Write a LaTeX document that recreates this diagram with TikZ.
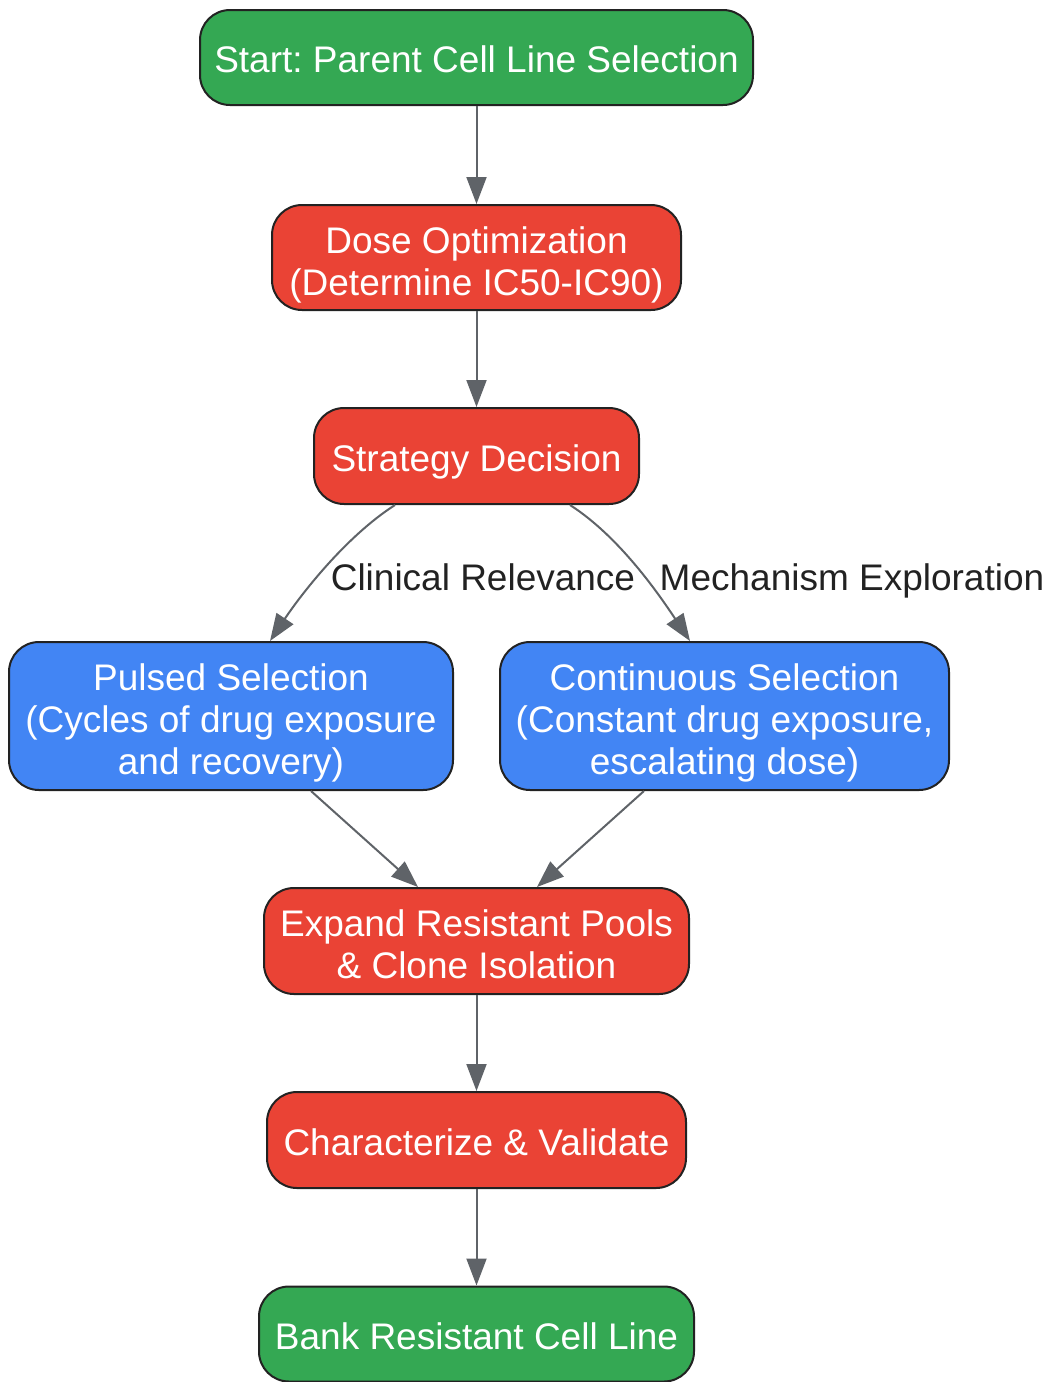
\documentclass[tikz,border=0pt]{standalone}
\usepackage{fontspec}
\setmainfont{Liberation Sans}
\usetikzlibrary{arrows.meta}
\definecolor{gfill}{HTML}{34A853}
\definecolor{rfill}{HTML}{EA4335}
\definecolor{bfill}{HTML}{4285F4}
\definecolor{edgec}{HTML}{5F6368}
\definecolor{bord}{HTML}{222222}
\definecolor{lblc}{HTML}{222222}
\newcommand{\topstrut}{\rule{0pt}{38pt}}
\newcommand{\mtop}{\rule{0pt}{41pt}}
\newcommand{\botstrut}{\rule[-8pt]{0pt}{8pt}}
\frenchspacing
\begin{document}
\begin{tikzpicture}[x=1pt,y=-1pt,
  txt/.style={align=center, inner sep=0pt, font=\fontsize{37}{42}\selectfont,
    execute at begin node=\topstrut, execute at end node=\botstrut},
  box/.style={txt, draw=bord, line width=2pt, rounded corners=30pt, text=white},
  gbox/.style={box, fill=gfill},
  rbox/.style={box, fill=rfill},
  bbox/.style={box, fill=bfill},
  arr/.style={draw=edgec, line width=2pt, -{Triangle[length=27pt,width=20pt]}},
  lbl/.style={txt, text=lblc}]
\useasboundingbox (0,0) rectangle (1049,1382);
\node[gbox, minimum width=553pt, minimum height=95pt] (start) at (476.5,57.5) {Start: Parent Cell Line Selection};
\node[rbox, minimum width=409pt, minimum height=105pt] (dose) at (476.5,257.5) {\mtop Dose Optimization\\(Determine IC50-IC90)};
\node[rbox, minimum width=325pt, minimum height=96pt] (strat) at (476.5,456) {Strategy Decision};
\node[bbox, minimum width=444pt, minimum height=148pt] (pulsed) at (231,716) {\mtop Pulsed Selection\\(Cycles of drug exposure\\and recovery)};
\node[bbox, minimum width=449pt, minimum height=148pt] (cont) at (724.5,716) {\mtop Continuous Selection\\(Constant drug exposure,\\escalating dose)};
\node[rbox, minimum width=425pt, minimum height=106pt] (expand) at (476.5,941) {\mtop Expand Resistant Pools\\\& Clone Isolation};
\node[rbox, minimum width=419pt, minimum height=96pt] (charac) at (476.5,1140) {Characterize \& Validate};
\node[gbox, minimum width=435pt, minimum height=95pt] (bank) at (476.5,1334) {Bank Resistant Cell Line};

\draw[arr] (start.south) -- (dose.north);
\draw[arr] (dose.south) -- (strat.north);
\draw[arr] ([xshift=-81.5pt]strat.south) .. controls +(-50,32) and +(30,-45) .. ([xshift=39pt]pulsed.north);
\draw[arr] ([xshift=93.5pt]strat.south) .. controls +(50,32) and +(-30,-45) .. ([xshift=-34.5pt]cont.north);
\node[lbl] (l1) at (483,575) {Clinical Relevance};
\node[lbl] (l2) at (852,575) {Mechanism Exploration};
\draw[arr] ([xshift=80pt]pulsed.south) -- ([xshift=-58.5pt]expand.north);
\draw[arr] ([xshift=-80.5pt]cont.south) -- ([xshift=60.5pt]expand.north);
\draw[arr] (expand.south) -- (charac.north);
\draw[arr] (charac.south) -- (bank.north);
\end{tikzpicture}
\end{document}
